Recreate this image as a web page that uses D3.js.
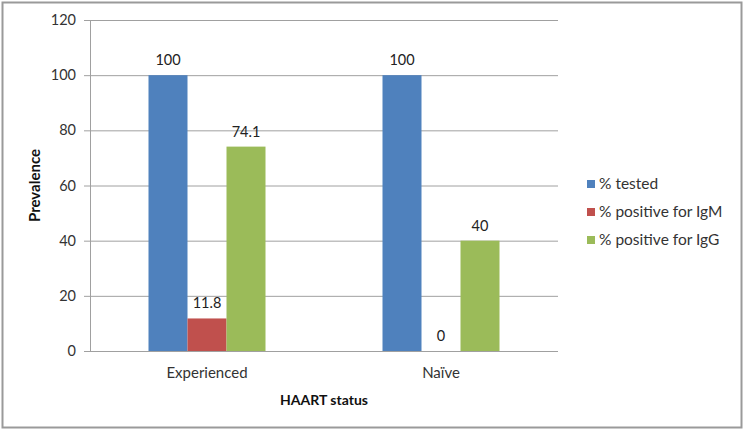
<!DOCTYPE html>
<html><head><meta charset="utf-8">
<script src="https://cdn.jsdelivr.net/npm/d3@7"></script>
<style>body{margin:0;background:#fff}svg{display:block}text{font-family:Lato,"Open Sans",sans-serif}</style>
</head><body><svg id="c" width="744" height="431"></svg>
<script>
const categories = ["Experienced", "Naïve"];
const seriesNames = ["% tested", "% positive for IgM", "% positive for IgG"];
const tested = [100, 100];
const igm = [11.8, 0];
const igg = [74.1, 40];
const yTicks = [0, 20, 40, 60, 80, 100, 120];
const colors = ["#4F81BD", "#C0504D", "#9BBB59"];

(function () {
const series = [tested, igm, igg];
const svg = d3.select("#c");
svg.append("rect").attr("x", 2.5).attr("y", 2.5).attr("width", 739).attr("height", 425)
  .attr("fill", "#fff").attr("stroke", "#9a9a9a").attr("stroke-width", 2);

const pL = 90, pR = 558, pT = 20, pB = 351;
const x = d3.scaleBand().domain(categories).range([pL, pR]).paddingInner(0).paddingOuter(0);
const y = d3.scaleLinear().domain([0, 120]).range([pB, pT]);
const groupW = x.bandwidth() * 0.5;
const xs = d3.scaleBand().domain(d3.range(series.length)).range([0, groupW]);

// gridlines
svg.append("g").selectAll("line").data(yTicks).join("line")
  .attr("x1", pL - 6).attr("x2", pR).attr("y1", d => y(d) + 0.5).attr("y2", d => y(d) + 0.5)
  .attr("stroke", "#a0a0a0").attr("stroke-width", 1);
svg.append("line").attr("x1", pL + 0.5).attr("x2", pL + 0.5).attr("y1", pT).attr("y2", pB)
  .attr("stroke", "#a0a0a0");

// y axis labels
const yAxis = d3.axisLeft(y).tickValues(yTicks).tickSize(0).tickPadding(14);
const gy = svg.append("g").attr("transform", `translate(${pL},0)`).call(yAxis);
gy.select(".domain").remove();
gy.selectAll("text").attr("font-size", 14.5).attr("fill", "#333").style("font-family", "Lato,'Open Sans',sans-serif");

// x axis labels
const xAxis = d3.axisBottom(x).tickSize(0).tickPadding(16);
const gx = svg.append("g").attr("transform", `translate(0,${pB})`).call(xAxis);
gx.select(".domain").remove();
gx.selectAll("text").attr("font-size", 15).attr("fill", "#333").style("font-family", "Lato,'Open Sans',sans-serif");

// bars
series.forEach((vals, si) => {
  const g = svg.append("g");
  g.selectAll("rect").data(vals).join("rect")
    .attr("x", (d, i) => x(categories[i]) + (x.bandwidth() - groupW) / 2 + xs(si))
    .attr("width", xs.bandwidth())
    .attr("y", d => y(d)).attr("height", d => pB - y(d))
    .attr("fill", colors[si]);
  g.selectAll("text").data(vals).join("text")
    .attr("x", (d, i) => x(categories[i]) + (x.bandwidth() - groupW) / 2 + xs(si) + xs.bandwidth() / 2)
    .attr("y", d => y(d) - 10)
    .attr("text-anchor", "middle").attr("font-size", 14.5).attr("fill", "#222")
    .text(d => d);
});

// axis titles
svg.append("text").attr("x", (pL + pR) / 2).attr("y", 405).attr("text-anchor", "middle")
  .attr("font-size", 14).attr("font-weight", "bold").attr("fill", "#111").text("HAART status");
svg.append("text").attr("transform", `translate(40,${(pT + pB) / 2}) rotate(-90)`)
  .attr("text-anchor", "middle").attr("font-size", 15).attr("font-weight", "bold").attr("fill", "#111").text("Prevalence");

// legend
const lg = svg.append("g").attr("transform", "translate(587,184)");
seriesNames.forEach((n, i) => {
  lg.append("rect").attr("x", 0).attr("y", i * 28 - 4).attr("width", 8).attr("height", 8).attr("fill", colors[i]);
  lg.append("text").attr("x", 12).attr("y", i * 28 + 5).attr("font-size", 15.5).attr("fill", "#333").text(n);
});
})();
</script></body></html>
